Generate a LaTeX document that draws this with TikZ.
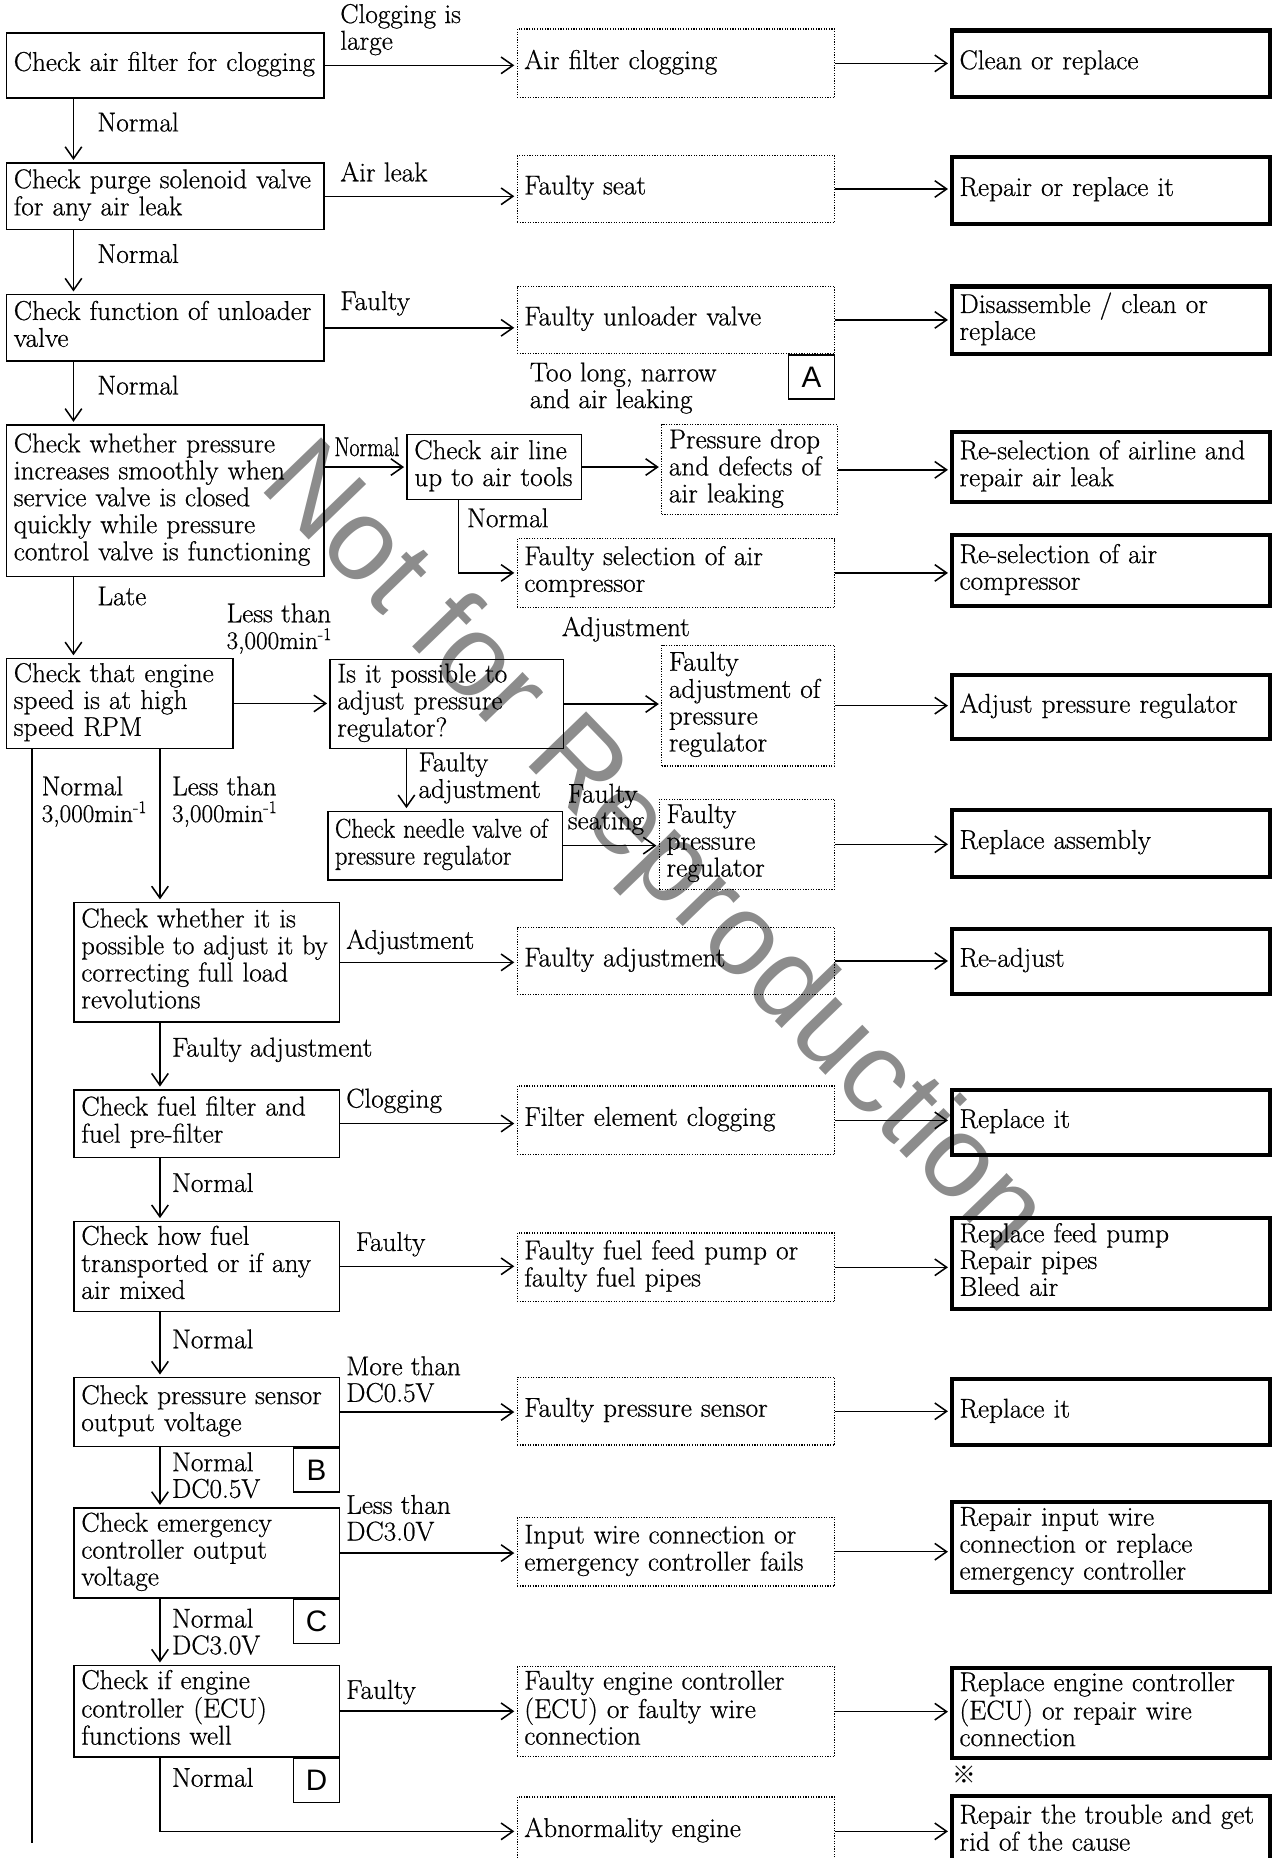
\documentclass[tikz,border=0pt]{standalone}
\usepackage{fontspec}
\usepackage{graphicx}
\usetikzlibrary{arrows.meta,calc}
\newfontfamily\wmfont{Liberation Sans}
\newfontfamily\cjkfont{Noto Sans CJK JP}
\newfontfamily\txtfont{Latin Modern Roman}[FakeBold=0.6]
\newcommand\tx[1]{\begin{tabular}{@{}l@{}}#1\end{tabular}}
\newcommand\cnd[1]{\scalebox{0.9}[1]{#1}}
\newcommand\rpm{{\fontsize{21.3}{22.5}\selectfont 3,000min\textsuperscript{-1}}}
\tikzset{
  every node/.style={font=\txtfont\fontsize{23}{22.5}\selectfont},
  base/.style={anchor=north west, inner xsep=6pt, inner ysep=0pt},
  chk/.style={base, draw, line width=1.3pt},
  flt/.style={base, draw, line width=1pt, dash pattern=on 1pt off 1.2pt},
  fix/.style={base, draw, line width=3.5pt},
  sz/.style 2 args={text width=#1, minimum height=#2},
  lbl/.style={anchor=west, inner sep=0pt, align=left},
  tag/.style={anchor=north east, draw, line width=1.3pt, minimum width=39pt, minimum height=37pt, inner sep=0pt, font=\wmfont\fontsize{25}{25}\selectfont},
  arr/.style={line width=1.3pt, shorten >=2pt, -{Straight Barb[length=10pt,width=14pt]}},
  ln/.style={line width=1.3pt},
}
\begin{document}
\begin{tikzpicture}[x=1pt,y=-1pt]
\useasboundingbox (0,0) rectangle (1073,1568);
% watermark
\node[rotate=-46, text=black!45, font=\wmfont\fontsize{98}{98}\selectfont] (wm) at (550,718) {Not for Reproduction};

% row 1
\node[chk, sz={256pt}{55pt}] (B1) at (5,27) {\tx{Check air filter for clogging}};
\node[flt, sz={256pt}{58pt}] (D1) at (436,24) {\tx{Air filter clogging}};
\node[fix, sz={256pt}{56pt}] (R1) at (802,24) {\tx{Clean or replace}};
% row 2
\node[chk, sz={256pt}{56pt}] (B2) at (5,137) {\tx{Check purge solenoid valve\\for any air leak}};
\node[flt, sz={256pt}{56pt}] (D2) at (436,131) {\tx{Faulty seat}};
\node[fix, sz={256pt}{56pt}] (R2) at (802,131) {\tx{Repair or replace it}};
% row 3
\node[chk, sz={256pt}{56pt}] (B3) at (5,248) {\tx{Check function of unloader\\valve}};
\node[flt, sz={256pt}{57pt}] (D3) at (436,241) {\tx{Faulty unloader valve}};
\node[fix, sz={256pt}{57pt}] (R3) at (802,240) {\tx{Disassemble / clean or\\replace}};
\node[tag] (TA) at (D3.south east) {A};
% row 4
\node[chk, sz={256pt}{128pt}] (B4) at (5,358) {\tx{Check whether pressure\\increases smoothly when\\service valve is closed\\quickly while pressure\\control valve is functioning}};
\node[chk, sz={135pt}{55pt}] (B6) at (343,366) {\tx{Check air line\\up to air tools}};
\node[flt, sz={136pt}{76pt}] (D4) at (558,358) {\tx{Pressure drop\\and defects of\\air leaking}};
\node[fix, sz={256pt}{59pt}] (R4) at (802,363) {\tx{Re-selection of airline and\\repair air leak}};
\node[flt, sz={256pt}{58pt}] (D5) at (436,454) {\tx{Faulty selection of air\\compressor}};
\node[fix, sz={256pt}{60pt}] (R5) at (802,450) {\tx{Re-selection of air\\compressor}};
% row 5
\node[chk, sz={179pt}{76pt}] (B5) at (5,555) {\tx{Check that engine\\speed is at high\\speed RPM}};
\node[chk, sz={185pt}{75pt}] (B7) at (278,556) {\tx{Is it possible to\\adjust pressure\\regulator?}};
\node[flt, sz={134pt}{102pt}] (D6) at (558,544) {\tx{Faulty\\adjustment of\\pressure\\regulator}};
\node[fix, sz={256pt}{54pt}] (R6) at (802,568) {\tx{Adjust pressure regulator}};
\node[chk, sz={186pt}{58pt}] (B8) at (276,684) {\tx{\cnd{Check needle valve of}\\\cnd{pressure regulator}}};
\node[flt, sz={136pt}{76pt}] (D7) at (556,674) {\tx{Faulty\\pressure\\regulator}};
\node[fix, sz={256pt}{56pt}] (R7) at (802,682) {\tx{Replace assembly}};
% row 6
\node[chk, sz={212pt}{101pt}] (B9) at (62,761) {\tx{Check whether it is\\\scalebox{0.97}[1]{possible to adjust it by}\\correcting full load\\revolutions}};
\node[flt, sz={256pt}{57pt}] (D8) at (436,782) {\tx{Faulty adjustment}};
\node[fix, sz={256pt}{55pt}] (R8) at (802,782) {\tx{Re-adjust}};
% row 7
\node[chk, sz={212pt}{57pt}] (B10) at (62,919) {\tx{Check fuel filter and\\fuel pre-filter}};
\node[flt, sz={256pt}{58pt}] (D9) at (436,916) {\tx{Filter element clogging}};
\node[fix, sz={256pt}{55pt}] (R9) at (802,918) {\tx{Replace it}};
% row 8
\node[chk, sz={212pt}{76pt}] (B11) at (62,1030) {\tx{Check how fuel\\transported or if any\\air mixed}};
\node[flt, sz={256pt}{58pt}] (D10) at (436,1040) {\tx{Faulty fuel feed pump or\\faulty fuel pipes}};
\node[fix, sz={256pt}{77pt}] (R10) at (802,1026) {\tx{Replace feed pump\\Repair pipes\\Bleed air}};
% row 9
\node[chk, sz={212pt}{58pt}] (B12) at (62,1162) {\tx{Check pressure sensor\\output voltage}};
\node[flt, sz={256pt}{57pt}] (D11) at (436,1162) {\tx{Faulty pressure sensor}};
\node[fix, sz={256pt}{56pt}] (R11) at (802,1162) {\tx{Replace it}};
\node[tag] (TB) at (B12.south east) {B};
% row 10
\node[chk, sz={212pt}{76pt}] (B13) at (62,1272) {\tx{Check emergency\\controller output\\voltage}};
\node[flt, sz={256pt}{58pt}] (D12) at (436,1280) {\tx{Input wire connection or\\emergency controller fails}};
\node[fix, sz={256pt}{76pt}] (R12) at (802,1266) {\tx{Repair input wire\\connection or replace\\emergency controller}};
\node[tag] (TC) at (B13.south east) {C};
% row 11
\node[chk, sz={212pt}{77pt}] (B14) at (62,1405) {\tx{Check if engine\\controller (ECU)\\functions well}};
\node[flt, sz={256pt}{76pt}] (D13) at (436,1406) {\tx{Faulty engine controller\\(ECU) or faulty wire\\connection}};
\node[fix, sz={256pt}{76pt}] (R13) at (802,1406) {\tx{Replace engine controller\\(ECU) or repair wire\\connection}};
\node[tag] (TD) at (B14.south east) {D};
% row 12
\node[flt, sz={256pt}{58pt}] (D14) at (436,1516) {\tx{Abnormality engine}};
\node[fix, sz={256pt}{60pt}] (R14) at (802,1514) {\tx{Repair the trouble and get\\rid of the cause}};
\node[font=\cjkfont\fontsize{20}{20}\selectfont, inner sep=0pt] (MK) at (814,1498) {※};

% labels
\node[lbl] (L1) at (287,25) {Clogging is\\large};
\node[lbl] (L2) at (287,145) {Air leak};
\node[lbl] (L3) at (287,256) {Faulty};
\node[lbl] (N1) at (82,103) {Normal};
\node[lbl] (N2) at (82,214) {Normal};
\node[lbl] (N3) at (82,325) {Normal};
\node[lbl] (L4) at (447,327.5) {Too long, narrow\\and air leaking};
\node[lbl] (N4) at (282,377) {\scalebox{0.8}[1]{Normal}};
\node[lbl] (N5) at (394,437) {Normal};
\node[lbl] (L5) at (82,503) {Late};
\node[lbl] (L6) at (191,530.5) {Less than\\\rpm};
\node[lbl] (L7) at (474,531) {Adjustment};
\node[lbl] (L8) at (353,656.5) {Faulty\\adjustment};
\node[lbl] (L9) at (479,683) {Faulty\\seating};
\node[lbl] (L10) at (35,676.5) {Normal\\\rpm};
\node[lbl] (L11) at (145,676.5) {Less than\\\rpm};
\node[lbl] (L12) at (292,795) {Adjustment};
\node[lbl] (L13) at (145,886) {Faulty adjustment};
\node[lbl] (L14) at (292,929) {Clogging};
\node[lbl] (N6) at (145,998) {Normal};
\node[lbl] (L15) at (300,1050) {Faulty};
\node[lbl] (N7) at (145,1130) {Normal};
\node[lbl] (L16) at (292,1164) {More than\\DC0.5V};
\node[lbl] (L17) at (145,1245) {Normal\\DC0.5V};
\node[lbl] (L18) at (292,1281) {Less than\\DC3.0V};
\node[lbl] (L19) at (145,1377) {Normal\\DC3.0V};
\node[lbl] (L20) at (292,1428) {Faulty};
\node[lbl] (N8) at (145,1500) {Normal};

% main vertical flow
\draw[arr] ([xshift=57pt]B1.south west) -- ([xshift=57pt]B2.north west);
\draw[arr] ([xshift=57pt]B2.south west) -- ([xshift=57pt]B3.north west);
\draw[arr] ([xshift=57pt]B3.south west) -- ([xshift=57pt]B4.north west);
\draw[arr] ([xshift=57pt]B4.south west) -- ([xshift=57pt]B5.north west);
% horizontal rows
\foreach \a/\b in {B1/D1, D1/R1, B2/D2, D2/R2, B3/D3, D3/R3, B6/D4, D4/R4, D5/R5,
  B5/B7, B7/D6, D6/R6, B8/D7, D7/R7, B9/D8, D8/R8, B10/D9, D9/R9, B11/D10, D10/R10,
  B12/D11, D11/R11, B13/D12, D12/R12, B14/D13, D13/R13, D14/R14}
  \draw[arr] (\a.east) -- (\a.east -| \b.west);
\draw[arr] (B6.west -| B4.east) -- (B6.west);
\draw[arr] ([xshift=44pt]B6.south west) |- (D5.west);
\draw[arr] ([xshift=65pt]B7.south west) -- ([xshift=65pt]B7.south west |- B8.north);
% engine speed branches
\coordinate (END) at (27,1555);
\draw[ln] (B5.south west -| END) -- (END);
\draw[arr] ([xshift=130pt]B5.south west) -- ([xshift=73pt]B9.north west);
\draw[arr] ([xshift=73pt]B9.south west) -- ([xshift=73pt]B10.north west);
\draw[arr] ([xshift=73pt]B10.south west) -- ([xshift=73pt]B11.north west);
\draw[arr] ([xshift=73pt]B11.south west) -- ([xshift=73pt]B12.north west);
\draw[arr] ([xshift=73pt]B12.south west) -- ([xshift=73pt]B13.north west);
\draw[arr] ([xshift=73pt]B13.south west) -- ([xshift=73pt]B14.north west);
\draw[arr] ([xshift=73pt]B14.south west) |- (D14.west);
\end{tikzpicture}
\end{document}
